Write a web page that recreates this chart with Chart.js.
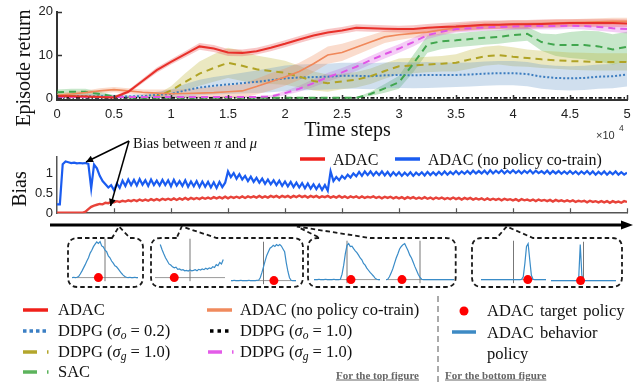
<!DOCTYPE html>
<html><head><meta charset="utf-8">
<script src="https://cdn.jsdelivr.net/npm/chart.js@4.4.1/dist/chart.umd.min.js"></script>
<style>
html,body{margin:0;padding:0;background:#fff;}
#wrap{position:relative;width:644px;height:383px;overflow:hidden;font-family:"Liberation Serif","Times New Roman",serif;color:#111;}
canvas{position:absolute;}
svg{position:absolute;left:0;top:0;}
.t{position:absolute;white-space:nowrap;line-height:1;}
.l{transform:translateY(-50%);}
.c{transform:translate(-50%,-50%);}
.rot{transform:translate(-50%,-50%) rotate(-90deg);}
.lg{font-size:16.5px;}
.ft{font-size:11px;font-weight:bold;color:#666;text-decoration:underline;}
.sans{font-family:"Liberation Sans",Arial,sans-serif;}
sub{font-size:0.7em;vertical-align:-0.3em;line-height:0;}
</style></head><body><div id="wrap">
<canvas id="topChart" width="644" height="140" style="left:0;top:0"></canvas>
<canvas id="biasChart" width="644" height="85" style="left:0;top:140px"></canvas>
<svg width="644" height="383" viewBox="0 0 644 383">
 <defs>
  <marker id="ah" viewBox="0 0 10 10" refX="10" refY="5" markerWidth="9" markerHeight="7" markerUnits="userSpaceOnUse" orient="auto"><path d="M0,0L10,5L0,10z" fill="#000"/></marker>
 </defs>
 <line x1="129" y1="141" x2="86" y2="162" stroke="#000" stroke-width="1.5" marker-end="url(#ah)"/>
 <line x1="129" y1="141" x2="110.5" y2="206" stroke="#000" stroke-width="1.5" marker-end="url(#ah)"/>
 <line x1="50" y1="225" x2="624" y2="225" stroke="#000" stroke-width="3"/>
 <path d="M621,220.5L633,225L621,229.5z" fill="#000"/>
 <g fill="none" stroke="#1a1a1a" stroke-width="1.8" stroke-dasharray="4.5,3">
  <path d="M112,238 L78,238 Q68,238 68,248 L68,277 Q68,287 78,287 L133,287 Q143,287 143,277 L143,248 Q143,238 133,238 L130,238 L119,226.5 Z"/>
  <path d="M176.7,238 L161,238 Q151,238 151,248 L151,277 Q151,287 161,287 L293,287 Q303,287 303,277 L303,248 Q303,238 293,238 L216.7,238 L181.7,226.5 Z"/>
  <path d="M370,238 L445.7,238 Q455.7,238 455.7,248 L455.7,277 Q455.7,287 445.7,287 L318,287 Q308,287 308,277 L308,248 Q308,238 318,238 L320,238 L297,226.5 Z"/>
  <path d="M496.7,238 L482,238 Q472,238 472,248 L472,277 Q472,287 482,287 L612,287 Q622,287 622,277 L622,248 Q622,238 612,238 L533,238 L506.7,226.5 Z"/>
 </g>
 <line x1="300" y1="159" x2="325" y2="159" stroke="#f0201a" stroke-width="3.5"/>
 <line x1="395" y1="159" x2="420" y2="159" stroke="#1a5cf0" stroke-width="3.5"/>
 <line x1="23" y1="310" x2="48" y2="310" stroke="#f0201a" stroke-width="3.5"/>
 <line x1="207" y1="310" x2="232" y2="310" stroke="#f08a5d" stroke-width="3.5"/>
 <line x1="23" y1="331" x2="48" y2="331" stroke="#3b7fc4" stroke-width="3.5" stroke-dasharray="3.5,3"/>
 <line x1="210" y1="331" x2="232" y2="331" stroke="#000" stroke-width="3.5" stroke-dasharray="3.5,4"/>
 <line x1="23" y1="352" x2="37" y2="352" stroke="#b3a62c" stroke-width="3.5"/>
 <line x1="47" y1="352" x2="48.5" y2="352" stroke="#b3a62c" stroke-width="3.5"/>
 <line x1="208" y1="352" x2="222" y2="352" stroke="#e35be8" stroke-width="3.5"/>
 <line x1="232" y1="352" x2="233.5" y2="352" stroke="#e35be8" stroke-width="3.5"/>
 <line x1="23" y1="372" x2="37" y2="372" stroke="#5cb35c" stroke-width="3.5"/>
 <line x1="47" y1="372" x2="48.5" y2="372" stroke="#5cb35c" stroke-width="3.5"/>
 <line x1="438" y1="296" x2="438" y2="383" stroke="#aaa" stroke-width="2" stroke-dasharray="6,4"/>
 <circle cx="464" cy="311" r="4.5" fill="#ff0000"/>
 <line x1="452" y1="332" x2="476" y2="332" stroke="#3d8ac4" stroke-width="3.5"/>
</svg>
<div class="t rot" style="left:23px;top:68px;font-size:20px">Episode return</div>
<div class="t c" style="left:347.5px;top:129px;font-size:20px">Time steps</div>
<div class="t l sans" style="left:596px;top:135px;font-size:11px;color:#333">×10</div>
<div class="t l sans" style="left:619px;top:128px;font-size:8.5px;color:#333">4</div>
<div class="t rot" style="left:19px;top:189px;font-size:20px">Bias</div>
<div class="t l" style="left:133px;top:143px;font-size:14.5px">Bias between <i>π</i> and <i>μ</i></div>
<div class="t l" style="left:333px;top:160px;font-size:16px">ADAC</div>
<div class="t l" style="left:428px;top:160px;font-size:16px">ADAC (no policy co-train)</div>
<div class="t l lg" style="left:58px;top:310px">ADAC</div>
<div class="t l lg" style="left:240px;top:310px">ADAC (no policy co-train)</div>
<div class="t l lg" style="left:58px;top:331px">DDPG (<i>σ<sub>o</sub></i> = 0.2)</div>
<div class="t l lg" style="left:240px;top:331px">DDPG (<i>σ<sub>o</sub></i> = 1.0)</div>
<div class="t l lg" style="left:58px;top:352px">DDPG (<i>σ<sub>g</sub></i> = 1.0)</div>
<div class="t l lg" style="left:240px;top:352px">DDPG (<i>σ<sub>g</sub></i> = 1.0)</div>
<div class="t l lg" style="left:58px;top:372px">SAC</div>
<div class="t l ft" style="left:336px;top:375px">For the top figure</div>
<div class="t l ft" style="left:445px;top:375px">For the bottom figure</div>
<div class="t l lg" style="left:487px;top:311px;word-spacing:2px">ADAC target policy</div>
<div class="t l lg" style="left:487px;top:332.5px;word-spacing:2px">ADAC behavior</div>
<div class="t l lg" style="left:487px;top:354px">policy</div>
</div>
<script>
// ---------- top figure: episode return ----------
const steps = [0,0.125,0.25,0.375,0.5,0.625,0.75,0.875,1,1.125,1.25,1.375,1.5,1.625,1.75,1.875,2,2.125,2.25,2.375,2.5,2.625,2.75,2.875,3,3.125,3.25,3.375,3.5,3.625,3.75,3.875,4,4.125,4.25,4.375,4.5,4.625,4.75,4.875,5];
const adac = [0.5,0.45,0.4,0.3,0.2,1.5,4.0,6.5,8.4,10.2,12.0,11.5,10.6,10.5,10.9,11.7,12.6,13.6,14.5,15.2,15.7,16.3,16.2,16.1,16.0,16.0,16.3,16.5,16.6,16.8,17.0,17.0,17.1,17.1,17.2,17.3,17.4,17.4,17.4,17.4,17.3];
const adacSpread = [0.3,0.3,0.3,0.3,0.3,0.4,0.5,0.6,0.6,0.7,0.8,0.8,0.8,0.8,0.8,0.8,0.8,0.8,0.8,0.8,0.8,0.8,0.8,0.8,0.8,0.9,0.9,0.9,1.0,1.0,1.0,1.0,1.0,1.0,1.0,1.0,0.9,0.9,0.9,0.9,0.9];
const noCotrain = [0.7,1.0,1.3,1.7,2.0,1.7,1.4,1.2,1.05,1.1,1.2,1.3,1.5,1.7,2.7,3.8,4.9,6.2,8.0,10.0,10.6,11.8,13.0,14.2,14.7,15.0,15.3,15.8,16.3,16.6,16.8,17.0,17.1,17.2,17.3,17.4,17.5,17.6,17.7,17.8,17.8];
const noCotrainSpread = [0.5,0.5,0.5,0.6,0.6,0.6,0.6,0.8,1.0,1.0,1.2,1.3,1.5,1.6,1.8,2.0,2.0,2.0,2.0,2.0,2.0,1.8,1.6,1.4,1.2,1.0,1.0,1.0,0.9,0.9,0.9,0.9,0.9,0.8,0.8,0.8,0.8,0.8,0.8,0.8,0.8];
const ddpgO02 = [0.5,0.5,0.5,0.45,0.4,0.4,0.5,0.8,1.0,1.8,2.5,2.9,3.2,3.5,3.8,4.2,4.6,4.8,4.9,5.0,5.2,5.2,5.1,5.3,5.4,5.3,5.4,5.4,5.4,5.5,5.7,5.8,5.8,5.6,5.0,4.7,4.6,4.7,5.0,5.1,5.5];
const ddpgO02Spread = [0.5,0.5,0.5,0.5,0.4,0.4,0.5,0.7,1.0,1.5,1.8,2.0,2.2,2.4,2.6,2.8,3.0,3.0,3.0,3.0,3.0,3.0,3.0,3.0,3.0,3.0,3.0,2.9,2.8,2.8,2.8,2.8,2.8,2.8,2.8,2.8,2.8,2.8,2.8,2.8,2.8];
const ddpgO10 = [0.1,0.1,0.1,0.1,0.1,0.1,0.1,0.1,0.1,0.1,0.1,0.1,0.1,0.1,0.1,0.1,0.1,0.1,0.1,0.1,0.1,0.1,0.1,0.1,0.1,0.1,0.1,0.1,0.1,0.1,0.1,0.1,0.1,0.1,0.1,0.1,0.1,0.1,0.1,0.1,0.1];
const ddpgG10 = [0.5,0.5,0.4,0.35,0.3,0.3,0.3,0.4,1.8,3.8,5.7,7.0,8.2,7.5,6.7,6.3,5.9,5.0,4.0,3.5,3.9,4.3,5.1,6.3,7.4,7.6,7.8,8.0,8.2,9.0,9.7,10.0,9.6,9.3,9.0,8.8,8.6,8.5,8.4,8.4,8.4];
const ddpgG10Spread = [0.3,0.3,0.3,0.3,0.3,0.3,0.3,0.5,1.0,2.0,2.8,3.2,3.5,3.5,3.2,3.0,2.8,2.5,2.2,2.0,1.8,1.8,1.8,1.8,1.8,1.8,1.8,1.8,2.0,2.2,2.2,2.2,2.2,2.0,2.0,2.0,2.0,2.0,2.0,2.0,2.0];
const ddpgG10b = [0.3,0.3,0.3,0.3,0.3,0.3,0.3,0.3,0.3,0.3,0.3,0.3,0.3,0.3,0.3,0.4,1.2,2.2,3.5,4.9,6.0,7.3,8.8,10.2,11.5,13.0,14.6,15.4,16.0,16.2,16.4,16.5,16.6,16.7,16.7,16.7,16.8,16.7,16.5,16.2,16.0];
const ddpgG10bSpread = [0.2,0.2,0.2,0.2,0.2,0.2,0.2,0.2,0.2,0.2,0.2,0.2,0.2,0.2,0.2,0.3,0.5,0.7,0.9,1.0,1.0,1.0,1.0,1.0,1.0,1.0,0.9,0.8,0.8,0.8,0.8,0.8,0.8,0.8,0.8,0.8,0.8,0.8,0.9,0.9,1.0];
const sac = [1.4,1.5,1.5,1.0,0.4,0.2,0.1,0.1,0.1,0.1,0.1,0.1,0.1,0.1,0.1,0.1,0.1,0.1,0.1,0.1,0.1,0.1,1.0,2.3,3.7,8.0,12.5,13.2,13.4,13.7,14.0,14.2,14.6,14.9,13.0,12.3,12.3,12.3,12.0,11.3,11.9];
const sacSpread = [0.6,0.7,0.7,0.5,0.3,0.2,0.1,0.1,0.1,0.1,0.1,0.1,0.1,0.1,0.1,0.1,0.1,0.1,0.1,0.1,0.1,0.1,0.5,1.0,1.5,2.0,2.0,1.8,1.6,1.6,1.6,1.6,1.6,1.6,2.0,2.5,3.0,3.3,3.5,3.5,3.5];
const topXTicks = [0,0.5,1,1.5,2,2.5,3,3.5,4,4.5,5];
const topYTicks = [0,10,20];

// ---------- bottom figure: bias ----------
const biasSteps = [
0,0.025,0.05,0.075,0.1,0.125,0.15,0.175,0.2,0.225,
0.25,0.275,0.3,0.325,0.35,0.375,0.4,0.425,0.45,0.475,
0.5,0.525,0.55,0.575,0.6,0.625,0.65,0.675,0.7,0.725,
0.75,0.775,0.8,0.825,0.85,0.875,0.9,0.925,0.95,0.975,
1,1.025,1.05,1.075,1.1,1.125,1.15,1.175,1.2,1.225,
1.25,1.275,1.3,1.325,1.35,1.375,1.4,1.425,1.45,1.475,
1.5,1.525,1.55,1.575,1.6,1.625,1.65,1.675,1.7,1.725,
1.75,1.775,1.8,1.825,1.85,1.875,1.9,1.925,1.95,1.975,
2,2.025,2.05,2.075,2.1,2.125,2.15,2.175,2.2,2.225,
2.25,2.275,2.3,2.325,2.35,2.375,2.4,2.425,2.45,2.475,
2.5,2.525,2.55,2.575,2.6,2.625,2.65,2.675,2.7,2.725,
2.75,2.775,2.8,2.825,2.85,2.875,2.9,2.925,2.95,2.975,
3,3.025,3.05,3.075,3.1,3.125,3.15,3.175,3.2,3.225,
3.25,3.275,3.3,3.325,3.35,3.375,3.4,3.425,3.45,3.475,
3.5,3.525,3.55,3.575,3.6,3.625,3.65,3.675,3.7,3.725,
3.75,3.775,3.8,3.825,3.85,3.875,3.9,3.925,3.95,3.975,
4,4.025,4.05,4.075,4.1,4.125,4.15,4.175,4.2,4.225,
4.25,4.275,4.3,4.325,4.35,4.375,4.4,4.425,4.45,4.475,
4.5,4.525,4.55,4.575,4.6,4.625,4.65,4.675,4.7,4.725,
4.75,4.775,4.8,4.825,4.85,4.875,4.9,4.925,4.95,4.975,
5];
const biasAdac = [
0.01,0.01,0.01,0.01,0.01,0.01,0.01,0.01,0.01,0.01,
0.04,0.10,0.16,0.19,0.21,0.23,0.22,0.26,0.25,0.28,
0.27,0.30,0.28,0.31,0.29,0.32,0.30,0.33,0.30,0.34,
0.31,0.34,0.31,0.35,0.32,0.35,0.32,0.36,0.33,0.36,
0.33,0.37,0.33,0.37,0.34,0.38,0.34,0.38,0.35,0.38,
0.35,0.39,0.36,0.39,0.36,0.40,0.37,0.40,0.37,0.41,
0.37,0.41,0.38,0.41,0.38,0.42,0.38,0.42,0.39,0.42,
0.39,0.43,0.39,0.42,0.39,0.43,0.40,0.43,0.39,0.43,
0.40,0.43,0.39,0.43,0.40,0.44,0.40,0.43,0.39,0.43,
0.40,0.43,0.39,0.42,0.40,0.43,0.39,0.42,0.39,0.43,
0.39,0.42,0.38,0.42,0.39,0.42,0.38,0.42,0.38,0.41,
0.39,0.42,0.38,0.41,0.37,0.41,0.38,0.41,0.37,0.40,
0.37,0.40,0.36,0.40,0.37,0.40,0.36,0.39,0.36,0.40,
0.36,0.39,0.35,0.39,0.36,0.39,0.35,0.38,0.35,0.39,
0.35,0.38,0.34,0.38,0.35,0.38,0.34,0.37,0.34,0.37,
0.33,0.37,0.33,0.36,0.33,0.36,0.32,0.36,0.33,0.35,
0.32,0.35,0.31,0.35,0.32,0.34,0.31,0.34,0.30,0.34,
0.31,0.33,0.30,0.33,0.29,0.33,0.30,0.32,0.29,0.32,
0.29,0.32,0.28,0.31,0.29,0.31,0.27,0.31,0.28,0.30,
0.27,0.30,0.27,0.30,0.26,0.30,0.27,0.29,0.26,0.30,
0.28];
const biasNoCotrain = [
0.22,0.22,1.22,1.29,1.27,1.25,1.26,1.24,1.25,1.24,
1.25,1.23,0.62,1.21,1.12,0.93,0.80,0.72,0.64,0.70,
0.57,0.74,0.63,0.81,0.68,0.84,0.70,0.83,0.69,0.85,
0.71,0.82,0.68,0.84,0.70,0.81,0.69,0.83,0.70,0.82,
0.67,0.83,0.69,0.80,0.68,0.82,0.66,0.79,0.67,0.80,
0.65,0.79,0.66,0.78,0.64,0.77,0.63,0.78,0.65,0.76,
1.04,0.90,1.00,0.86,0.97,0.84,0.93,0.80,0.91,0.78,
0.88,0.76,0.86,0.73,0.84,0.72,0.82,0.70,0.81,0.68,
0.79,0.67,0.78,0.65,0.76,0.64,0.75,0.62,0.74,0.61,
0.72,0.60,0.71,0.58,0.70,0.56,1.04,0.80,0.90,0.82,
0.93,0.86,0.96,0.89,0.99,0.92,1.03,0.93,1.04,0.95,
1.04,0.94,1.03,0.95,1.04,0.94,1.03,0.93,1.02,0.94,
1.02,0.93,1.01,0.94,1.02,0.93,1.01,0.95,1.02,0.94,
1.03,0.95,1.02,0.95,1.03,0.96,1.04,0.96,1.03,0.97,
1.05,0.97,1.04,0.98,1.05,0.98,1.06,0.99,1.05,0.99,
1.06,0.98,1.07,0.99,1.06,1.00,1.07,0.99,1.06,1.00,
1.07,1.00,1.06,0.99,1.06,1.00,1.07,0.99,1.06,1.00,
1.05,0.99,1.06,0.98,1.05,0.99,1.05,0.98,1.04,0.98,
1.05,0.98,1.04,0.97,1.04,0.98,1.05,0.97,1.04,0.96,
1.03,0.97,1.04,0.96,1.03,0.97,1.04,0.96,1.02,0.96,
1.01];
const biasXTicks = [0.5,1,1.5,2,2.5,3,3.5,4,4.5,5];
const biasYTicks = [0,0.5,1];

// ---------- policy snapshots (histograms) ----------
const histBins = [-1,-0.95,-0.9,-0.85,-0.8,-0.75,-0.7,-0.65,-0.6,-0.55,-0.5,-0.45,-0.4,-0.35,-0.3,-0.25,-0.2,-0.15,-0.1,-0.05,0,0.05,0.1,0.15,0.2,0.25,0.3,0.35,0.4,0.45,0.5,0.55,0.6,0.65,0.7,0.75,0.8,0.85,0.9,0.95,1];
const behaviorHist1 = [0,0.01,0,0.01,0.03,0.1,0.18,0.27,0.36,0.46,0.55,0.68,0.76,0.86,0.93,0.99,0.95,1.0,0.88,0.85,0.76,0.72,0.6,0.55,0.46,0.4,0.33,0.3,0.24,0.18,0.12,0.07,0.03,0.01,0,0.01,0,0,0.01,0,0];
const behaviorHist2 = [null,null,null,0.92,0.78,0.66,0.55,0.47,0.38,0.35,0.3,0.27,0.29,0.23,0.24,0.21,0.22,0.19,0.2,0.18,0.21,0.19,0.2,0.22,0.19,0.23,0.21,0.24,0.22,0.26,0.23,0.27,0.25,0.3,0.28,0.36,0.33,0.42,0.38,0.5,null];
const behaviorHist3 = [0,0,0.01,0,0,0,0.01,0,0,0,0,0.01,0,0,0,0,0.01,0.01,0.08,0.22,0.38,0.55,0.7,0.8,0.9,0.93,0.98,0.95,1.0,0.97,1.0,0.96,0.88,0.8,0.5,0.26,0.08,0.01,0,0,0];
const behaviorHist4 = [0,0,0,0.01,0,0,0,0.01,0,0,0,0,0.01,0,0,0,0.01,0.15,0.4,0.72,0.95,1.0,0.92,0.93,0.86,0.8,0.75,0.68,0.6,0.55,0.45,0.4,0.32,0.26,0.2,0.15,0.1,0.04,0.01,0,0];
const behaviorHist5 = [0,0.01,0.08,0.18,0.3,0.45,0.6,0.72,0.85,0.92,0.97,1.0,0.9,0.8,0.68,0.6,0.48,0.36,0.25,0.14,0.06,0.01,0,0,0,0,0,0,0,0,0,0,0,0,0,0,0,0,0,0,0];
const behaviorHist6 = [0,0,0,0,0,0,0,0,0,0,0,0,0,0,0,0,0,0,0,0,0,0,0,0,0,0.01,0.08,0.45,0.92,1.0,0.55,0.12,0.01,0,0,0,0,0,0,0,0];
const behaviorHist7 = [0,0,0,0,0,0,0,0,0,0,0,0,0,0,0,0,0,0.02,1.0,0.15,0.01,0,0,0,0,0,0,0,0,0,0,0,0,0,0,0,0,0,0,0,0];
const targetActions = [-0.2,-0.45,0.32,0.12,-0.53,0.44,-0.09];

// ---------- drawing ----------
Chart.defaults.font.family = '"Liberation Sans", Arial, sans-serif';
Chart.defaults.color = '#222';
Chart.defaults.animation = false;

const inTicks = {
  id: 'inTicks',
  afterDraw(chart, args, o) {
    const {ctx, chartArea: a, scales: {x, y}} = chart;
    ctx.save();
    ctx.strokeStyle = o.color; ctx.lineWidth = o.width;
    ctx.beginPath();
    (o.xt || []).forEach(v => { const p = Math.round(x.getPixelForValue(v)) + 0.5; ctx.moveTo(p, a.bottom); ctx.lineTo(p, a.bottom - o.len); });
    (o.yt || []).forEach(v => { const p = Math.round(y.getPixelForValue(v)) + 0.5; ctx.moveTo(a.left, p); ctx.lineTo(a.left + o.len, p); });
    ctx.stroke(); ctx.restore();
  }
};

const seriesDefs = [
  {mean: adac, spread: adacSpread, color: '#e8302a', band: 'rgba(232,70,70,0.30)', dash: [], width: 2, order: 1},
  {mean: noCotrain, spread: noCotrainSpread, color: '#f0885a', band: 'rgba(240,140,90,0.30)', dash: [], width: 1.6, order: 3},
  {mean: ddpgO02, spread: ddpgO02Spread, color: '#3b7cbf', band: 'rgba(100,150,200,0.30)', dash: [2, 2], width: 2, order: 6},
  {mean: ddpgO10, spread: null, color: '#111', band: null, dash: [4, 2, 1.5, 2], width: 1.8, order: 7},
  {mean: ddpgG10, spread: ddpgG10Spread, color: '#b0a325', band: 'rgba(190,180,50,0.30)', dash: [7, 5], width: 2, order: 5},
  {mean: ddpgG10b, spread: ddpgG10bSpread, color: '#e055e6', band: 'rgba(220,90,225,0.30)', dash: [7, 5], width: 2, order: 2},
  {mean: sac, spread: sacSpread, color: '#41a64e', band: 'rgba(80,180,90,0.32)', dash: [7, 5], width: 2, order: 4}
];
const topDatasets = [];
seriesDefs.forEach((s, k) => {
  if (s.spread) {
    topDatasets.push({data: steps.map((x, i) => ({x, y: s.mean[i] + s.spread[i]})), borderWidth: 0, pointRadius: 0, fill: false, order: 20 + k});
    topDatasets.push({data: steps.map((x, i) => ({x, y: s.mean[i] - s.spread[i]})), borderWidth: 0, pointRadius: 0, fill: '-1', backgroundColor: s.band, order: 20 + k});
  }
  topDatasets.push({data: steps.map((x, i) => ({x, y: s.mean[i]})), borderColor: s.color, borderWidth: s.width, borderDash: s.dash, pointRadius: 0, fill: false, order: s.order});
});

new Chart(document.getElementById('topChart'), {
  type: 'line',
  data: {datasets: topDatasets},
  options: {
    responsive: false, animation: false, devicePixelRatio: 1,
    layout: {padding: {left: 0, right: 17, top: 9, bottom: 0}, autoPadding: false},
    plugins: {legend: {display: false}, tooltip: {enabled: false}, inTicks: {len: 5, color: '#333', width: 1.5, xt: topXTicks, yt: topYTicks}},
    scales: {
      x: {type: 'linear', min: 0, max: 5, afterFit: s => { s.height = 40; },
          afterBuildTicks: s => { s.ticks = topXTicks.map(v => ({value: v})); },
          grid: {display: false, drawTicks: false}, border: {display: true, color: '#333', width: 2},
          ticks: {padding: 7, font: {size: 13}, color: '#222', maxRotation: 0, autoSkip: false, callback: v => String(v)}},
      y: {type: 'linear', min: -0.4, max: 20, afterFit: s => { s.width = 57; },
          afterBuildTicks: s => { s.ticks = topYTicks.map(v => ({value: v})); },
          grid: {display: false, drawTicks: false}, border: {display: true, color: '#333', width: 2},
          ticks: {padding: 4, font: {size: 13}, color: '#222', callback: v => String(v)}}
    }
  },
  plugins: [inTicks]
});

new Chart(document.getElementById('biasChart'), {
  type: 'line',
  data: {datasets: [
    {data: biasSteps.map((x, i) => ({x, y: biasNoCotrain[i]})), borderColor: '#1a5cf0', borderWidth: 2.2, pointRadius: 0, fill: false, order: 1},
    {data: biasSteps.map((x, i) => ({x, y: biasAdac[i]})), borderColor: '#e8433a', borderWidth: 2.4, pointRadius: 0, fill: false, order: 2}
  ]},
  options: {
    responsive: false, animation: false, devicePixelRatio: 1,
    layout: {padding: {left: 0, right: 17, top: 17, bottom: 0}, autoPadding: false},
    plugins: {legend: {display: false}, tooltip: {enabled: false}, inTicks: {len: 5, color: '#555', width: 1.2, xt: biasXTicks, yt: []}},
    scales: {
      x: {type: 'linear', min: 0, max: 5, afterFit: s => { s.height = 6; },
          grid: {display: false, drawTicks: false}, border: {display: true, color: '#555', width: 1.5},
          ticks: {display: false}},
      y: {type: 'linear', min: 0, max: 1.4, afterFit: s => { s.width = 57; },
          afterBuildTicks: s => { s.ticks = biasYTicks.map(v => ({value: v})); },
          grid: {display: false, drawTicks: false}, border: {display: true, color: '#555', width: 1.5},
          ticks: {padding: 4, font: {size: 13}, color: '#222', callback: v => String(v)}}
    }
  },
  plugins: [inTicks]
});

const hists = [behaviorHist1, behaviorHist2, behaviorHist3, behaviorHist4, behaviorHist5, behaviorHist6, behaviorHist7];
const miniPos = [
  {left: 72, width: 66, base: 278},
  {left: 155, width: 70, base: 278},
  {left: 231, width: 65, base: 280.5},
  {left: 314, width: 66, base: 280},
  {left: 386, width: 68, base: 279.5},
  {left: 480.5, width: 65, base: 279.5},
  {left: 551, width: 65, base: 281}
];
const wrap = document.getElementById('wrap');
hists.forEach((h, k) => {
  const p = miniPos[k];
  const cv = document.createElement('canvas');
  cv.width = p.width; cv.height = 45;
  cv.style.left = p.left + 'px';
  cv.style.top = (p.base - 39.6) + 'px';
  wrap.appendChild(cv);
  new Chart(cv, {
    type: 'line',
    data: {datasets: [
      {data: [{x: -1, y: 0}, {x: 1, y: 0}], borderColor: '#9a9a9a', borderWidth: 1, pointRadius: 0, order: 4},
      {data: [{x: 0, y: -0.1}, {x: 0, y: 1.08}], borderColor: '#777', borderWidth: 1, pointRadius: 0, order: 3},
      {data: histBins.map((x, i) => ({x, y: h[i]})), borderColor: '#3a8cc8', borderWidth: 1.2, pointRadius: 0, spanGaps: false, order: 2},
      {type: 'scatter', data: [{x: targetActions[k], y: 0}], pointRadius: 4.5, backgroundColor: '#ff0000', borderWidth: 0, order: 1, clip: false}
    ]},
    options: {
      responsive: false, animation: false, devicePixelRatio: 1,
      layout: {padding: 0, autoPadding: false},
      plugins: {legend: {display: false}, tooltip: {enabled: false}},
      scales: {x: {type: 'linear', display: false, min: -1, max: 1}, y: {display: false, min: -0.15, max: 1.1}}
    }
  });
});
</script>
</body></html>
